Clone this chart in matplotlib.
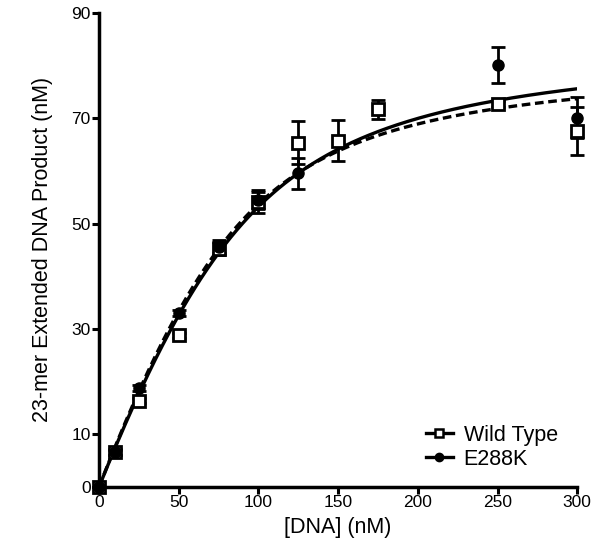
import numpy as np
from matplotlib import pyplot as plt

plt.rcParams['font.family'] = ['Liberation Sans', 'DejaVu Sans']

wt_x = [0, 10, 25, 50, 75, 100, 125, 150, 175, 250, 300]
wt_y = [0, 6.6, 16.4, 28.8, 45.2, 54.0, 65.3, 65.7, 71.7, 72.7, 67.6]
wt_err = [0, 0.6, 0.5, 0.5, 1.2, 2.0, 4.1, 3.9, 1.8, 0.5, 4.6]

mut_x = [0, 10, 25, 50, 75, 100, 125, 250, 300]
mut_y = [0, 6.6, 18.8, 33.0, 45.6, 54.5, 59.5, 80.1, 70.1]
mut_err = [0, 0.5, 0.5, 0.5, 1.2, 1.8, 3.0, 3.4, 3.9]

# fit parameters (quadratic binding curve), estimated from the drawn lines
wt_fit = (81.5, 24.0)
mut_fit = (85.0, 28.0)

xticks = [0, 50, 100, 150, 200, 250, 300]
yticks = [0, 10, 30, 50, 70, 90]


def quad_binding(s, e, kd):
    b = e + s + kd
    return (b - np.sqrt(b * b - 4 * e * s)) / 2


fig = plt.figure(figsize=(6, 5.54), dpi=100)
ax = fig.add_axes([0.165, 0.121, 0.797, 0.856])

xs = np.linspace(0, 300, 400)
ax.plot(xs, quad_binding(xs, *wt_fit), color='black', lw=2.4, ls=(0, (2.6, 1.4)), zorder=2)
ax.plot(xs, quad_binding(xs, *mut_fit), color='black', lw=2.4, zorder=2)

ax.errorbar(wt_x, wt_y, yerr=wt_err, fmt='none', ecolor='black', elinewidth=2,
            capsize=5, capthick=2, zorder=3, clip_on=False)
ax.errorbar(mut_x, mut_y, yerr=mut_err, fmt='none', ecolor='black', elinewidth=2,
            capsize=5, capthick=2, zorder=3, clip_on=False)
ax.plot(wt_x, wt_y, ls='none', marker='s', ms=9, mfc='white', mec='black', mew=2,
        zorder=4, clip_on=False)
ax.plot(mut_x, mut_y, ls='none', marker='o', ms=8, mfc='black', mec='black',
        zorder=5, clip_on=False)

# legend handles
h_wt, = ax.plot([], [], color='black', lw=2.4, marker='s', ms=5.5, mfc='white', mew=1.8)
h_mut, = ax.plot([], [], color='black', lw=2.4, marker='o', ms=6)
ax.legend([h_wt, h_mut], ['Wild Type', 'E288K'], loc='lower right',
          bbox_to_anchor=(1.0, -0.005), frameon=False, fontsize=15.5,
          handlelength=1.25, handletextpad=0.5, labelspacing=0.15)

ax.set_xlim(0, 300)
ax.set_ylim(0, 90)
ax.set_xticks(xticks)
ax.set_yticks(yticks)
ax.spines['top'].set_visible(False)
ax.spines['right'].set_visible(False)
ax.spines['left'].set_linewidth(2.5)
ax.spines['bottom'].set_linewidth(2.5)
ax.tick_params(direction='out', length=5, width=2.2, labelsize=12.5, pad=1)

ax.set_xlabel('[DNA] (nM)', fontsize=15.5, labelpad=5)
ax.set_ylabel('23-mer Extended DNA Product (nM)', fontsize=15.5, labelpad=13)

fig.savefig('out.png', dpi=100)
